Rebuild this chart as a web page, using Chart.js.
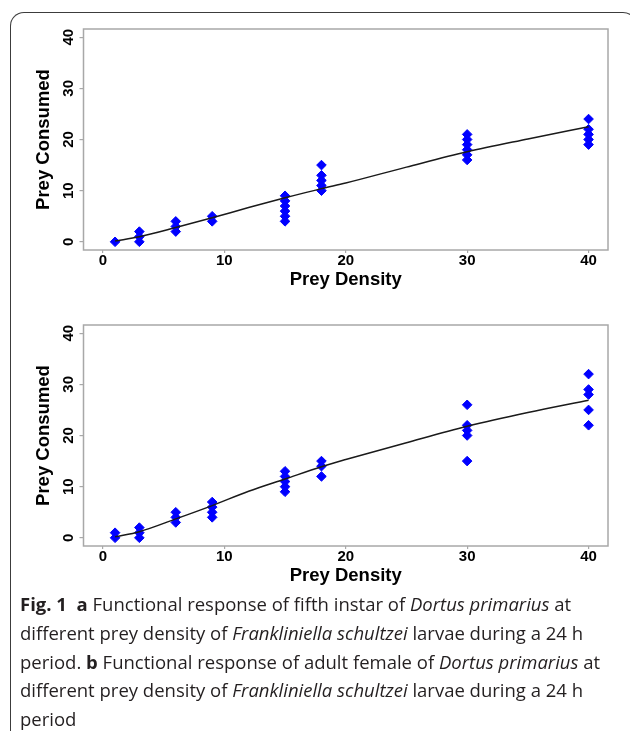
<!DOCTYPE html>
<html>
<head>
<meta charset="utf-8">
<title>Fig. 1 Functional response of Dortus primarius</title>
<script src="https://cdn.jsdelivr.net/npm/chart.js@4.4.1/dist/chart.umd.min.js"></script>
<style>
    html, body { margin: 0; padding: 0; background: #fff; }
    body { width: 630px; height: 733px; position: relative; overflow: hidden; }
    .frame {
        position: absolute; left: 10px; top: 12px; width: 627px; height: 719px;
        box-sizing: border-box; border: 1.6px solid #3c3c3c; border-bottom: none;
        border-radius: 14px 14px 0 0;
    }
    .panel { position: absolute; left: 0; }
    #panelA { top: 0; }
    #panelB { top: 296px; }
    .caption {
        position: absolute; left: 20px; top: 590px;
        font-family: "Open Sans", "Noto Sans", sans-serif; font-size: 18.5px; line-height: 28.8px;
        color: #231f20; white-space: nowrap;
    }
    .caption b { font-weight: 700; }
</style>
</head>
<body>
<div class="frame"></div>
<canvas id="panelA" class="panel" width="630" height="296"></canvas>
<canvas id="panelB" class="panel" width="630" height="296"></canvas>
<div class="caption">
    <div><b>Fig. 1</b>&nbsp; <b>a</b> Functional response of fifth instar of <i>Dortus primarius</i> at</div>
    <div>different prey density of <i>Frankliniella schultzei</i> larvae during a 24 h</div>
    <div>period. <b>b</b> Functional response of adult female of <i>Dortus primarius</i> at</div>
    <div>different prey density of <i>Frankliniella schultzei</i> larvae during a 24 h</div>
    <div>period</div>
</div>
<script>
// panel a - fifth instar
const densityA  = [1, 3, 3, 3, 6, 6, 6, 9, 9, 15, 15, 15, 15, 15, 15, 18, 18, 18, 18, 18, 30, 30, 30, 30, 30, 30, 40, 40, 40, 40, 40];
const consumedA = [0, 0, 1, 2, 2, 3, 4, 4, 5, 4, 5, 6, 7, 8, 9, 10, 11, 12, 13, 15, 16, 17, 18, 19, 20, 21, 19, 20, 21, 22, 24];

// panel b - adult female
const densityB  = [1, 1, 3, 3, 3, 6, 6, 6, 9, 9, 9, 9, 15, 15, 15, 15, 15, 18, 18, 18, 30, 30, 30, 30, 30, 40, 40, 40, 40, 40];
const consumedB = [0, 1, 0, 1, 2, 3, 4, 5, 4, 5, 6, 7, 9, 10, 11, 12, 13, 12, 14, 15, 15, 20, 21, 22, 26, 22, 25, 28, 29, 32];

// fitted curves
const fitDensity = [1, 3, 6, 9, 12, 15, 18, 20, 25, 30, 35, 40];
const fitA = [0.15, 1.0, 2.8, 4.7, 6.7, 8.6, 10.4, 11.5, 14.6, 17.6, 20.1, 22.5];
const fitB = [0.2, 1.2, 3.7, 6.3, 9.1, 11.5, 13.9, 15.3, 18.6, 21.8, 24.5, 26.9];

const xTicks = [0, 10, 20, 30, 40];
const yTicks = [0, 10, 20, 30, 40];

const axisFont = 'Liberation Sans, Arial, sans-serif';

document.addEventListener('DOMContentLoaded', function() {
    buildPanel('panelA', densityA, consumedA, fitA);
    buildPanel('panelB', densityB, consumedB, fitB);
});

// grey box round the plotting region, like R's box()
const plotBox = {
    id: 'plotBox',
    beforeDatasetsDraw(chart) {
        const { ctx, chartArea: a } = chart;
        ctx.save();
        ctx.strokeStyle = '#a8a8a8';
        ctx.lineWidth = 1.5;
        ctx.strokeRect(a.left, a.top, a.right - a.left, a.bottom - a.top);
        ctx.restore();
    }
};

function buildPanel(canvasId, density, consumed, fit) {
    const points = density.map((d, i) => ({ x: d, y: consumed[i] }));
    const curve = fitDensity.map((d, i) => ({ x: d, y: fit[i] }));

    new Chart(document.getElementById(canvasId), {
        type: 'scatter',
        data: {
            datasets: [{
                data: curve,
                showLine: true,
                borderColor: '#1a1a1a',
                borderWidth: 1.5,
                pointRadius: 0,
                cubicInterpolationMode: 'monotone',
                fill: false,
                order: 0
            }, {
                data: points,
                pointStyle: 'rectRot',
                pointRadius: 4.8,
                backgroundColor: '#0000ff',
                borderColor: '#0000ff',
                borderWidth: 1,
                order: 1
            }]
        },
        options: {
            responsive: false,
            animation: false,
            events: [],
            layout: { padding: { top: 29, right: 22, left: 0, bottom: 0 } },
            plugins: {
                legend: { display: false },
                tooltip: { enabled: false }
            },
            scales: {
                x: {
                    type: 'linear',
                    min: -1.6,
                    max: 41.6,
                    afterBuildTicks: s => { s.ticks = xTicks.map(v => ({ value: v })); },
                    afterFit: s => { s.height = 46; },
                    border: { display: false },
                    grid: { drawOnChartArea: false, tickLength: 3, color: '#a8a8a8', lineWidth: 1.2 },
                    ticks: {
                        color: '#000',
                        padding: -1,
                        maxRotation: 0,
                        font: { family: axisFont, size: 15, weight: 'bold' }
                    },
                    title: {
                        display: true,
                        text: 'Prey Density',
                        color: '#000',
                        padding: { top: 0, bottom: 5 },
                        font: { family: axisFont, size: 18.5, weight: 'bold' }
                    }
                },
                y: {
                    type: 'linear',
                    min: -1.6,
                    max: 41.6,
                    afterBuildTicks: s => { s.ticks = yTicks.map(v => ({ value: v })); },
                    afterFit: s => { s.width = 83.5; },
                    border: { display: false },
                    grid: { drawOnChartArea: false, tickLength: 4, color: '#a8a8a8', lineWidth: 1.2 },
                    ticks: {
                        color: '#000',
                        padding: 2.4,
                        minRotation: 90,
                        maxRotation: 90,
                        crossAlign: 'center',
                        font: { family: axisFont, size: 15, weight: 'bold' }
                    },
                    title: {
                        display: true,
                        text: 'Prey Consumed',
                        color: '#000',
                        padding: { top: 33, bottom: 0 },
                        font: { family: axisFont, size: 18.5, weight: 'bold' }
                    }
                }
            }
        },
        plugins: [plotBox]
    });
}
</script>
</body>
</html>
